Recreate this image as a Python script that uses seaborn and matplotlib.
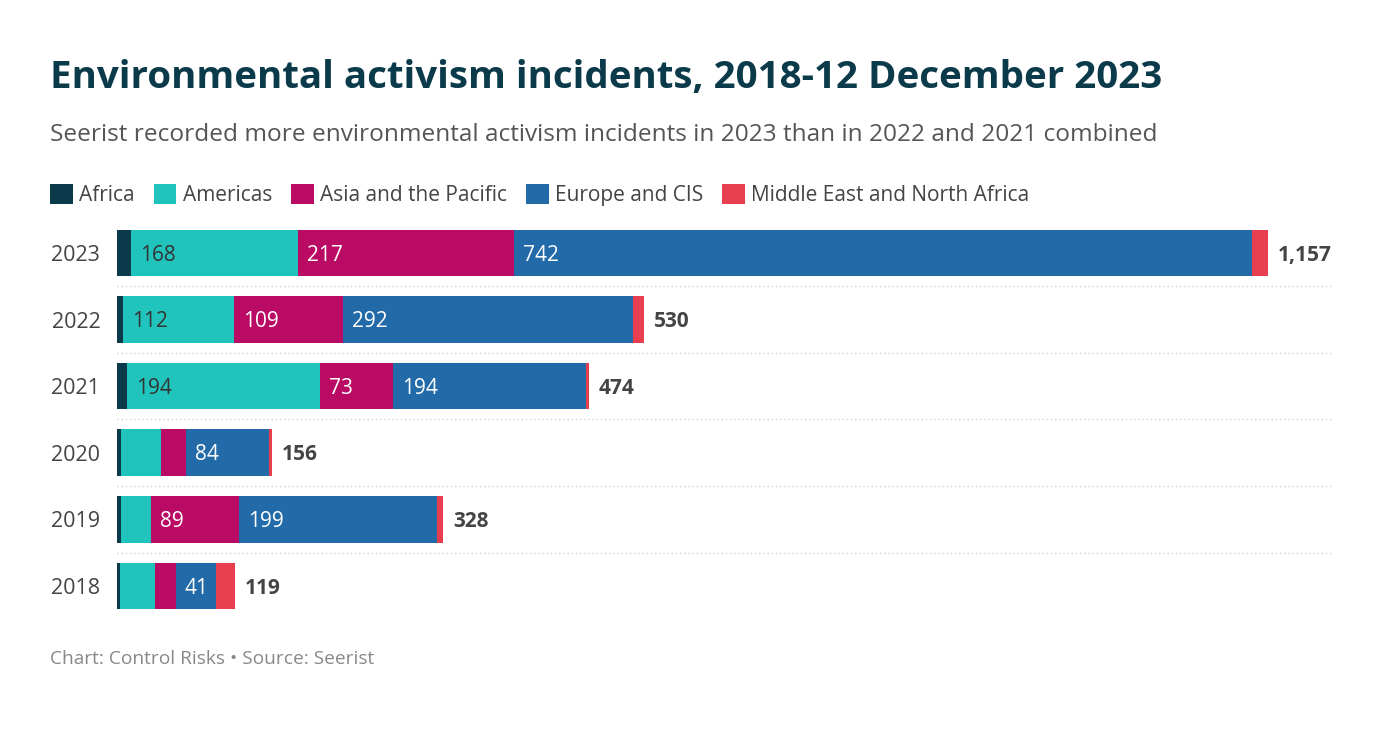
import pandas as pd
import matplotlib.pyplot as plt
import seaborn as sns
from matplotlib.patches import Patch

# data
years = ["2023", "2022", "2021", "2020", "2019", "2018"]
regions = ["Africa", "Americas", "Asia and the Pacific", "Europe and CIS", "Middle East and North Africa"]
africa = [14, 6, 10, 4, 4, 3]
americas = [168, 112, 194, 40, 30, 35]
asia = [217, 109, 73, 25, 89, 21]
europe = [742, 292, 194, 84, 199, 41]
mena = [16, 11, 3, 3, 6, 19]

colors = ["#0B3A4A", "#21C4BD", "#BA0B64", "#236BA8", "#E83F50"]
label_colors = ["white", "#333333", "white", "white", "white"]


def main():
    sns.set_style("white")
    plt.rcParams["font.family"] = ["Open Sans", "DejaVu Sans"]

    df = pd.DataFrame({"year": years, regions[0]: africa, regions[1]: americas,
                       regions[2]: asia, regions[3]: europe, regions[4]: mena})
    cum = df[regions].cumsum(axis=1)
    totals = cum[regions[-1]]

    fig = plt.figure(figsize=(13.78, 7.34), dpi=100)
    ax = fig.add_axes([117 / 1378, 0.1563, (1332 - 117) / 1378, 0.5444])

    # stacked bars: draw cumulative sums from the outermost segment inward
    for i in range(len(regions) - 1, -1, -1):
        sns.barplot(x=cum[regions[i]], y=df["year"], order=years, color=colors[i],
                    width=0.7, orient="h", ax=ax, saturation=1, linewidth=0)

    ax.set_xlim(0, 1157 * 1215 / 1151)
    ax.set_ylim(5.5, -0.5)

    # labels inside segments
    for r, yr in enumerate(years):
        start = 0
        for i, reg in enumerate(regions):
            v = df.loc[r, reg]
            if v >= 41:
                ax.annotate(str(v), (start, r), xytext=(6.5, -1.5), textcoords="offset points",
                            ha="left", va="center", fontsize=15, color=label_colors[i])
            start += v
        ax.annotate(f"{totals[r]:,}", (totals[r], r), xytext=(7, -1.5), textcoords="offset points",
                    ha="left", va="center", fontsize=15, fontweight="bold", color="#444444")

    # dotted separators
    for k in range(len(years) - 1):
        ax.axhline(k + 0.5, color="#d0d0d0", linestyle=(0, (1, 2)), linewidth=1)

    for s in ax.spines.values():
        s.set_visible(False)
    ax.set_xticks([])
    ax.set_xlabel("")
    ax.set_ylabel("")
    ax.tick_params(axis="y", length=0, pad=12, labelsize=15.5, labelcolor="#444444")

    fig.text(50 / 1378, 1 - 78 / 734, "Environmental activism incidents, 2018-12 December 2023",
             fontsize=27.7, fontweight="bold", color="#0B3A4A", va="center")
    fig.text(50 / 1378, 1 - 135 / 734,
             "Seerist recorded more environmental activism incidents in 2023 than in 2022 and 2021 combined",
             fontsize=17.6, color="#555555", va="center")
    fig.text(50 / 1378, 1 - 659 / 734, "Chart: Control Risks \u2022 Source: Seerist",
             fontsize=13.8, color="#888888", va="center")

    handles = [Patch(facecolor=c, edgecolor="none") for c in colors]
    fig.legend(handles, regions, loc="center left", bbox_to_anchor=(50 / 1378, 1 - 195 / 734),
               ncol=5, frameon=False, fontsize=15, handlelength=1.1, handleheight=1.1,
               handletextpad=0.3, columnspacing=0.9, borderpad=0, borderaxespad=0,
               labelcolor="#444444")

    fig.savefig("out.png", dpi=100)


if __name__ == "__main__":
    main()
